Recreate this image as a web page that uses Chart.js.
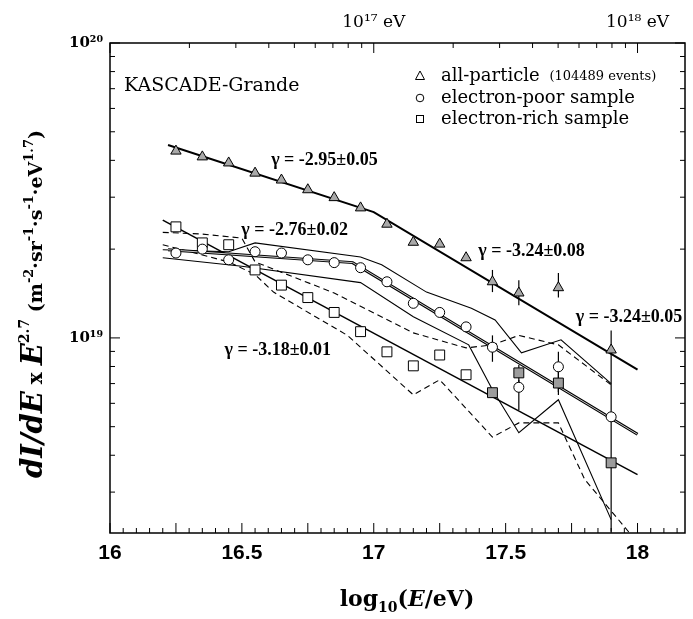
<!DOCTYPE html>
<html>
<head>
<meta charset="utf-8">
<script src="https://cdn.jsdelivr.net/npm/chart.js@4.4.0/dist/chart.umd.min.js"></script>
<style>
  html, body { margin: 0; padding: 0; background: #fff; }
  #wrap { width: 693px; height: 619px; }
</style>
</head>
<body>
<div id="wrap"><canvas id="chart" width="693" height="619"></canvas></div>
<script>
// energy bins, log10(E/eV)
const energyBins = [16.25, 16.35, 16.45, 16.55, 16.65, 16.75, 16.85, 16.95, 17.05, 17.15, 17.25, 17.35, 17.45, 17.55, 17.7, 17.9];

// dI/dE x E^2.7  (m^-2 sr^-1 s^-1 eV^1.7)
const allParticle = [4.30e19, 4.11e19, 3.92e19, 3.62e19, 3.43e19, 3.18e19, 2.99e19, 2.76e19, 2.43e19, 2.11e19, 2.08e19, 1.87e19, 1.55e19, 1.42e19, 1.48e19, 9.1e18];
const electronPoor = [1.94e19, 2.00e19, 1.84e19, 1.96e19, 1.94e19, 1.84e19, 1.80e19, 1.73e19, 1.55e19, 1.31e19, 1.22e19, 1.09e19, 9.3e18, 6.8e18, 7.98e18, 5.4e18];
const electronRich = [2.38e19, 2.10e19, 2.07e19, 1.70e19, 1.51e19, 1.37e19, 1.22e19, 1.05e19, 8.97e18, 8.04e18, 8.75e18, 7.5e18, 6.52e18, 7.61e18, 7.03e18, 3.77e18];

// fitted power laws
const allFitX = [16.22, 17.0, 18.0];
const allFitY = [4.51e19, 2.67e19, 7.80e18];
const poorFitX = [16.22, 16.92, 18.0];
const poorFitY = [1.99e19, 1.80e19, 4.71e18];
const richFitX = [16.2, 18.0];
const richFitY = [2.51e19, 3.44e18];

// systematic bands (solid: electron-poor, dashed: electron-rich)
const poorUpX = [16.2, 16.45, 16.55, 16.95, 17.03, 17.2, 17.37, 17.46, 17.56, 17.71, 17.9];
const poorUpY = [1.99e19, 1.96e19, 2.10e19, 1.88e19, 1.77e19, 1.43e19, 1.26e19, 1.15e19, 8.9e18, 9.85e18, 7.0e18];
const poorLowX = [16.2, 16.5, 16.95, 17.15, 17.36, 17.45, 17.55, 17.7, 17.9];
const poorLowY = [1.87e19, 1.75e19, 1.54e19, 1.18e19, 9.47e18, 6.67e18, 4.77e18, 6.17e18, 2.42e18];
const richUpX = [16.2, 16.35, 16.5, 16.55, 16.85, 17.15, 17.35, 17.45, 17.55, 17.7, 17.9];
const richUpY = [2.28e19, 2.25e19, 2.18e19, 1.81e19, 1.42e19, 1.04e19, 9.25e18, 9.47e18, 1.02e19, 9.47e18, 6.93e18];
const richLowX = [16.2, 16.45, 16.55, 16.62, 16.9, 17.15, 17.25, 17.45, 17.55, 17.7, 17.8, 17.97];
const richLowY = [2.07e19, 1.81e19, 1.64e19, 1.43e19, 1.02e19, 6.41e18, 7.21e18, 4.61e18, 5.15e18, 5.15e18, 3.31e18, 2.18e18];

// error bars
const errX = [17.45, 17.55, 17.7, 17.9, 17.45, 17.55, 17.7, 17.55, 17.7];
const errLo = [1.43e19, 1.29e19, 1.37e19, 2.2e18, 8.3e18, 5.7e18, 6.56e18, 6.9e18, 6.4e18];
const errHi = [1.70e19, 1.57e19, 1.66e19, 1.06e19, 1.02e19, 7.2e18, 8.97e18, 8.1e18, 7.7e18];

const xTickLabels = [16, 16.5, 17, 17.5, 18];

const xy = (xs, ys) => xs.map((x, i) => ({ x: x, y: ys[i] }));

const lineSet = (data, color, width, dash) => ({
  data: data, showLine: true, borderColor: color, borderWidth: width,
  borderDash: dash || [], pointRadius: 0, fill: false, tension: 0
});

const pointSet = (data, style, radius, fills) => ({
  data: data, showLine: false, pointStyle: style, pointRadius: radius,
  pointBackgroundColor: fills, pointBorderColor: '#000', pointBorderWidth: 1
});

const triFill = energyBins.map(() => '#a9a9a9');
const circFill = energyBins.map(() => '#ffffff');
const sqFill = energyBins.map(x => x >= 17.45 ? '#9c9c9c' : '#ffffff');

// error bars under the markers
const errorBars = {
  id: 'errorBars',
  beforeDatasetsDraw(chart) {
    const { ctx, scales: { x, y }, chartArea } = chart;
    ctx.save();
    ctx.beginPath();
    ctx.rect(chartArea.left, chartArea.top, chartArea.right - chartArea.left, chartArea.bottom - chartArea.top);
    ctx.clip();
    ctx.strokeStyle = '#000';
    ctx.lineWidth = 1.2;
    errX.forEach((v, i) => {
      const px = x.getPixelForValue(v);
      ctx.beginPath();
      ctx.moveTo(px, y.getPixelForValue(errLo[i]));
      ctx.lineTo(px, y.getPixelForValue(errHi[i]));
      ctx.stroke();
    });
    ctx.restore();
  }
};

// frame with inward ticks on all four sides
const frameTicks = {
  id: 'frameTicks',
  afterDatasetsDraw(chart) {
    const { ctx, scales: { x, y }, chartArea: a } = chart;
    ctx.save();
    ctx.strokeStyle = '#000';
    ctx.lineWidth = 1.5;
    ctx.strokeRect(a.left, a.top, a.right - a.left, a.bottom - a.top);
    ctx.lineWidth = 1;
    ctx.beginPath();
    // bottom: linear in log10(E)
    for (let i = 0; ; i++) {
      const v = 16 + i * 0.05;
      if (v > x.max + 1e-9) break;
      const px = x.getPixelForValue(v);
      const len = i % 5 === 0 ? 10 : 5;
      ctx.moveTo(px, a.bottom);
      ctx.lineTo(px, a.bottom - len);
    }
    // top: energy in eV, log spaced
    for (let n = 16; n <= 18; n++) {
      for (let k = 1; k <= 9; k++) {
        const v = n + Math.log10(k);
        if (v < x.min || v > x.max) continue;
        const px = x.getPixelForValue(v);
        const len = k === 1 ? 10 : 5;
        ctx.moveTo(px, a.top);
        ctx.lineTo(px, a.top + len);
      }
    }
    // left and right
    y.ticks.forEach(t => {
      const py = y.getPixelForValue(t.value);
      const len = t.major ? 10 : 5;
      ctx.moveTo(a.left, py);
      ctx.lineTo(a.left + len, py);
      ctx.moveTo(a.right, py);
      ctx.lineTo(a.right - len, py);
    });
    ctx.stroke();
    ctx.restore();
  }
};

function drawRich(ctx, parts, x0, y0) {
  let x = x0;
  parts.forEach(p => {
    ctx.font = p[1];
    ctx.fillText(p[0], x, y0 - p[2]);
    x += ctx.measureText(p[0]).width;
  });
  return x - x0;
}
function richWidth(ctx, parts) {
  let w = 0;
  parts.forEach(p => { ctx.font = p[1]; w += ctx.measureText(p[0]).width; });
  return w;
}

const SERIF = '"DejaVu Serif", serif';

// titles, labels, legend
const annotations = {
  id: 'annotations',
  afterDraw(chart) {
    const { ctx, scales: { x, y } } = chart;
    ctx.save();
    ctx.fillStyle = '#000';
    ctx.textBaseline = 'alphabetic';
    ctx.textAlign = 'left';

    // y axis title, rotated
    const bi = 'bold italic 29px ' + SERIF;
    const b = 'bold 19px ' + SERIF;
    const sup = 'bold 13px ' + SERIF;
    const yParts = [
      ['dI/dE', bi, 0], [' x ', 'bold 20px ' + SERIF, 0], ['E', bi, 0], ['2.7', 'bold 14px ' + SERIF, 13],
      [' (m', b, 0], ['-2', sup, 9], ['·sr', b, 0], ['-1', sup, 9], ['·s', b, 0], ['-1', sup, 9],
      ['·eV', b, 0], ['1.7', sup, 9], [')', b, 0]
    ];
    const yw = richWidth(ctx, yParts);
    ctx.save();
    ctx.translate(42, 304);
    ctx.rotate(-Math.PI / 2);
    drawRich(ctx, yParts, -yw / 2, 0);
    ctx.restore();

    // x axis title
    const xb = 'bold 22px ' + SERIF;
    const xParts = [['log', xb, 0], ['10', 'bold 14px ' + SERIF, -6], ['(', xb, 0], ['E', 'bold italic 22px ' + SERIF, 0], ['/eV)', xb, 0]];
    const xw = richWidth(ctx, xParts);
    drawRich(ctx, xParts, 407 - xw / 2, 606);

    // experiment name
    ctx.textBaseline = 'middle';
    ctx.font = '19px ' + SERIF;
    ctx.fillText('KASCADE-Grande', 124, 86);

    // spectral index labels, placed in data coordinates
    ctx.font = 'bold 18px "Liberation Serif", serif';
    [
      ['γ = -2.95±0.05', 16.611, 4.01e19],
      ['γ = -2.76±0.02', 16.498, 2.32e19],
      ['γ = -3.24±0.08', 17.396, 1.96e19],
      ['γ = -3.24±0.05', 17.766, 1.17e19],
      ['γ = -3.18±0.01', 16.434, 9.1e18]
    ].forEach(n => ctx.fillText(n[0], x.getPixelForValue(n[1]), y.getPixelForValue(n[2])));

    // legend
    const lx = 420, tx = 441, rows = [76, 98, 119];
    ctx.lineWidth = 1;
    ctx.strokeStyle = '#000';
    ctx.beginPath();
    ctx.moveTo(lx, rows[0] - 5); ctx.lineTo(lx + 4.5, rows[0] + 3.5); ctx.lineTo(lx - 4.5, rows[0] + 3.5); ctx.closePath();
    ctx.stroke();
    ctx.beginPath();
    ctx.arc(lx, rows[1], 3.8, 0, Math.PI * 2);
    ctx.stroke();
    ctx.strokeRect(lx - 3.5, rows[2] - 3.5, 7, 7);
    ctx.font = '18px ' + SERIF;
    ctx.fillText('all-particle', tx, rows[0]);
    const w0 = ctx.measureText('all-particle ').width;
    ctx.font = '13px ' + SERIF;
    ctx.fillText('(104489 events)', tx + w0 + 4, rows[0] + 1);
    ctx.font = '18px ' + SERIF;
    ctx.fillText('electron-poor sample', tx, rows[1]);
    ctx.fillText('electron-rich sample', tx, rows[2]);
    ctx.restore();
  }
};

new Chart(document.getElementById('chart'), {
  type: 'scatter',
  data: {
    datasets: [
      pointSet(xy(energyBins, allParticle), 'triangle', 6, triFill),
      pointSet(xy(energyBins, electronPoor), 'circle', 5, circFill),
      pointSet(xy(energyBins, electronRich), 'rect', 7, sqFill),
      lineSet(xy(poorFitX, poorFitY), '#c8c8c8', 1),
      lineSet(xy(poorFitX, poorFitY), '#000', 3),
      lineSet(xy(allFitX, allFitY), '#000', 2),
      lineSet(xy(richFitX, richFitY), '#000', 1.5),
      lineSet(xy(poorUpX, poorUpY), '#000', 1.1),
      lineSet(xy(poorLowX, poorLowY), '#000', 1.1),
      lineSet(xy(richUpX, richUpY), '#000', 1.1, [6, 4]),
      lineSet(xy(richLowX, richLowY), '#000', 1.1, [6, 4])
    ]
  },
  options: {
    responsive: false,
    animation: false,
    layout: { padding: { left: 0, right: 4, top: 0, bottom: 0 } },
    plugins: { legend: { display: false }, tooltip: { enabled: false } },
    scales: {
      x: {
        type: 'linear', position: 'bottom', min: 16, max: 18.18,
        grid: { display: false, drawTicks: false }, border: { display: false },
        ticks: {
          color: '#000', padding: 8, font: { family: '"Liberation Sans", Arial, sans-serif', size: 21, weight: 'bold' },
          callback: v => String(v)
        },
        afterBuildTicks: s => { s.ticks = xTickLabels.map(v => ({ value: v })); },
        afterFit: s => { s.height = 86; }
      },
      x2: {
        type: 'linear', position: 'top', min: 16, max: 18.18,
        grid: { display: false, drawTicks: false }, border: { display: false },
        ticks: {
          color: '#000', padding: 10, font: { family: '"DejaVu Serif", serif', size: 17 },
          callback: v => v === 17 ? '10¹⁷ eV' : v === 18 ? '10¹⁸ eV' : ''
        },
        afterBuildTicks: s => { s.ticks = [{ value: 17 }, { value: 18 }]; },
        afterFit: s => { s.height = 43; }
      },
      y: {
        type: 'logarithmic', position: 'left', min: 2.18e18, max: 1e20,
        grid: { display: false, drawTicks: false }, border: { display: false },
        ticks: {
          color: '#000', padding: 7, autoSkip: false,
          font: { family: '"DejaVu Serif", serif', size: 15, weight: 'bold' },
          callback: v => v === 1e20 ? '10²⁰' : v === 1e19 ? '10¹⁹' : ''
        },
        afterBuildTicks: s => {
          const t = [];
          for (let n = 18; n <= 19; n++) {
            for (let k = 1; k <= 9; k++) {
              const v = k * Math.pow(10, n);
              if (v >= s.min && v <= s.max) t.push({ value: v, major: k === 1 });
            }
          }
          t.push({ value: 1e20, major: true });
          s.ticks = t;
        },
        afterFit: s => { s.width = 110; }
      }
    }
  },
  plugins: [errorBars, frameTicks, annotations]
});
</script>
</body>
</html>
